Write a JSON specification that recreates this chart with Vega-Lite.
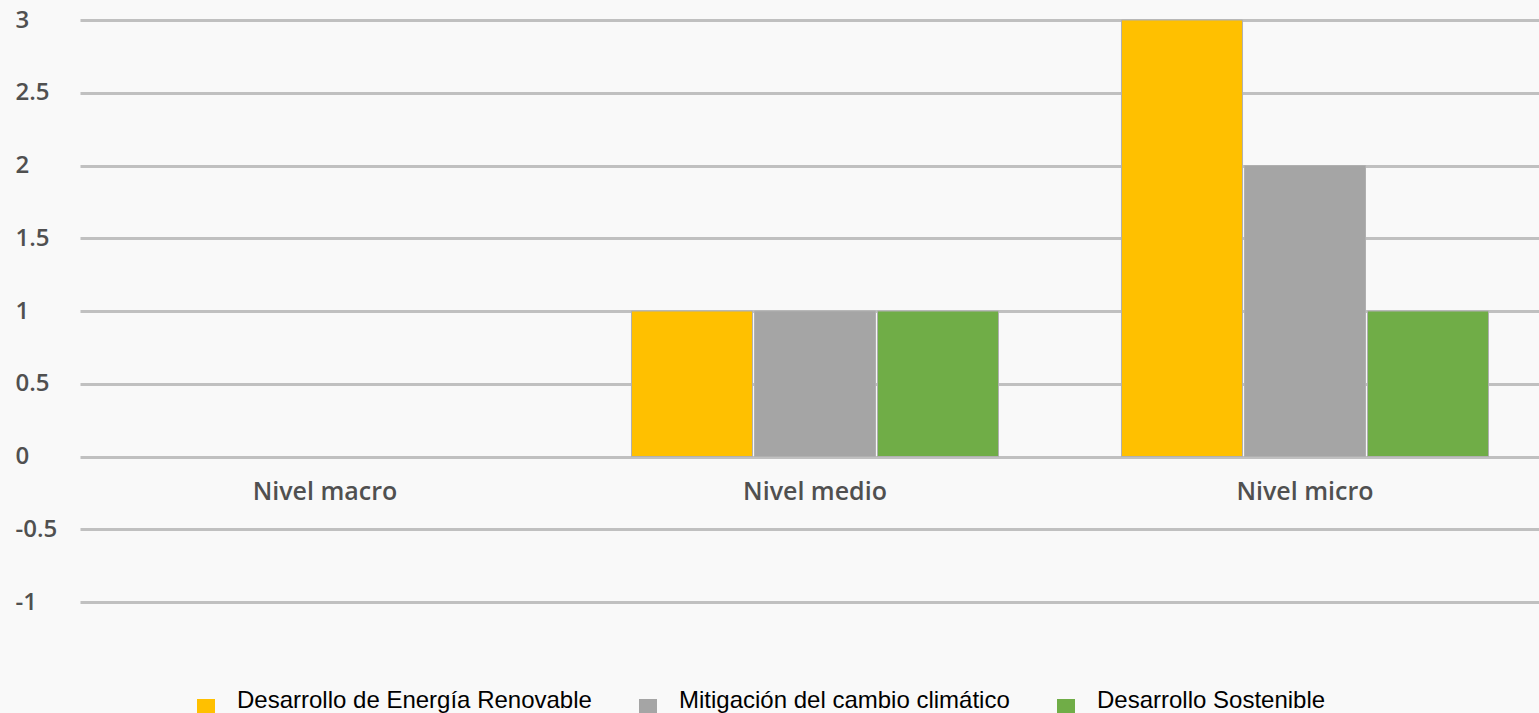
{
  "$schema": "https://vega.github.io/schema/vega-lite/v6.json",
  "autosize": {"type": "none"},
  "padding": {"left": 80, "top": 20, "right": 0, "bottom": 111},
  "width": 1470,
  "height": 582,
  "background": "#f9f9f9",
  "data": {
    "values": [
      {"nivel": "Nivel macro", "serie": "Desarrollo de Energía Renovable", "valor": 0},
      {"nivel": "Nivel macro", "serie": "Mitigación del cambio climático", "valor": 0},
      {"nivel": "Nivel macro", "serie": "Desarrollo Sostenible", "valor": 0},
      {"nivel": "Nivel medio", "serie": "Desarrollo de Energía Renovable", "valor": 1},
      {"nivel": "Nivel medio", "serie": "Mitigación del cambio climático", "valor": 1},
      {"nivel": "Nivel medio", "serie": "Desarrollo Sostenible", "valor": 1},
      {"nivel": "Nivel micro", "serie": "Desarrollo de Energía Renovable", "valor": 3},
      {"nivel": "Nivel micro", "serie": "Mitigación del cambio climático", "valor": 2},
      {"nivel": "Nivel micro", "serie": "Desarrollo Sostenible", "valor": 1}
    ]
  },
  "mark": {"type": "bar", "strokeWidth": 1},
  "encoding": {
    "x": {
      "field": "nivel",
      "type": "nominal",
      "sort": ["Nivel macro", "Nivel medio", "Nivel micro"],
      "scale": {"domain": ["Nivel macro", "Nivel medio", "Nivel micro"], "paddingInner": 0, "paddingOuter": 0},
      "axis": {
        "title": null,
        "orient": "bottom",
        "offset": -146,
        "domain": false,
        "ticks": false,
        "tickSize": 0,
        "labelPadding": 23,
        "labelAngle": 0,
        "labelFont": "Open Sans",
        "labelFontWeight": 600,
        "labelFontSize": 25,
        "labelColor": "#505050",
        "grid": false
      }
    },
    "xOffset": {
      "field": "serie",
      "type": "nominal",
      "sort": ["Desarrollo de Energía Renovable", "Mitigación del cambio climático", "Desarrollo Sostenible"],
      "scale": {"paddingInner": 0.016, "paddingOuter": 0.5}
    },
    "y": {
      "field": "valor",
      "type": "quantitative",
      "scale": {"domain": [-1, 3], "nice": false, "zero": false},
      "axis": {
        "title": null,
        "values": [-1, -0.5, 0, 0.5, 1, 1.5, 2, 2.5, 3],
        "labelExpr": "'' + datum.value",
        "domain": false,
        "ticks": false,
        "tickSize": 0,
        "labelAlign": "left",
        "labelPadding": 65,
        "labelFont": "Open Sans",
        "labelFontWeight": 600,
        "labelFontSize": 24,
        "labelColor": "#505050",
        "grid": true,
        "gridColor": "#c0c0c0",
        "gridWidth": 3,
        "gridOpacity": 1
      }
    },
    "stroke": {
      "condition": {"test": "datum.valor == 0", "value": null},
      "value": "#b0b0b0"
    },
    "color": {
      "field": "serie",
      "type": "nominal",
      "sort": ["Desarrollo de Energía Renovable", "Mitigación del cambio climático", "Desarrollo Sostenible"],
      "scale": {
        "domain": ["Desarrollo de Energía Renovable", "Mitigación del cambio climático", "Desarrollo Sostenible"],
        "range": ["#FFC000", "#A5A5A5", "#70AD47"]
      },
      "legend": {
        "title": null,
        "orient": "none",
        "legendX": 114,
        "legendY": 676,
        "direction": "horizontal",
        "symbolType": "square",
        "symbolSize": 324,
        "symbolStrokeWidth": 0,
        "labelFont": "Liberation Sans",
        "labelFontSize": 24,
        "labelBaseline": "alphabetic",
        "labelColor": "#000000",
        "labelOffset": 19,
        "labelLimit": 500,
        "columnPadding": 44
      }
    }
  },
  "config": {
    "view": {"stroke": null}
  }
}
